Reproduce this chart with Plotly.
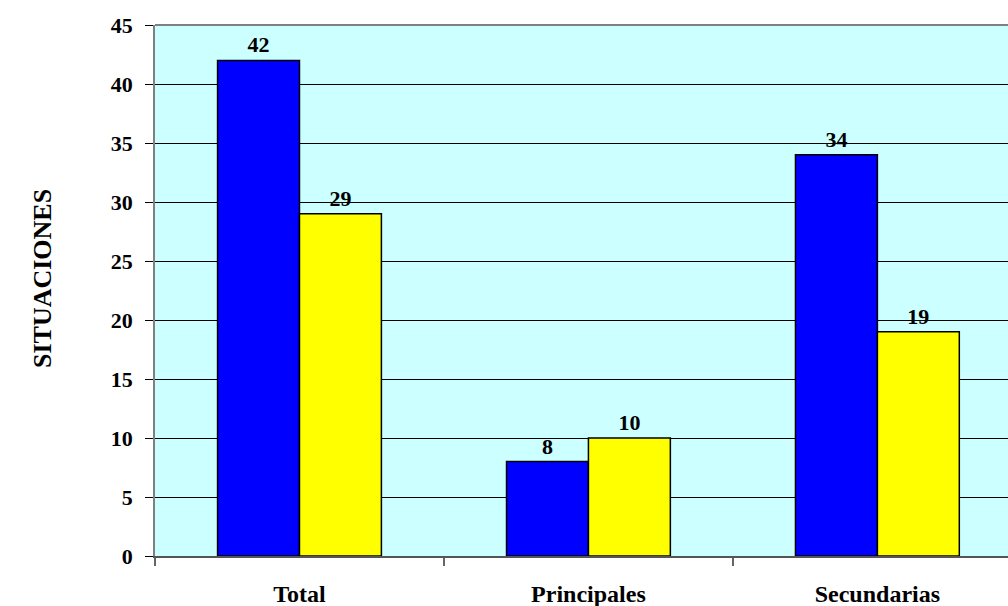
import plotly.graph_objects as go

categories = ["Total", "Principales", "Secundarias"]
serie_azul = [42, 8, 34]
serie_amarilla = [29, 10, 19]
y_ticks = [0, 5, 10, 15, 20, 25, 30, 35, 40, 45]
y_title = "SITUACIONES"

FONT = "Liberation Serif"
FS = 22
xpos = list(range(len(categories)))

fig = go.Figure()
fig.add_trace(go.Bar(
    x=xpos, y=serie_azul, marker=dict(color="#0000FF", line=dict(color="black", width=1.5)),
    text=[f"<b>{v}</b>" for v in serie_azul], textposition="outside",
    textfont=dict(family=FONT, size=FS, color="black"), cliponaxis=False, name="A"))
fig.add_trace(go.Bar(
    x=xpos, y=serie_amarilla, marker=dict(color="#FFFF00", line=dict(color="black", width=1.5)),
    text=[f"<b>{v}</b>" for v in serie_amarilla], textposition="outside",
    textfont=dict(family=FONT, size=FS, color="black"), cliponaxis=False, name="B"))

fig.update_layout(
    width=1008, height=606,
    margin=dict(l=155, r=0, t=25, b=50),
    paper_bgcolor="white", plot_bgcolor="#CCFFFF",
    barmode="group", bargap=0.433, bargroupgap=0,
    showlegend=False, uniformtext=dict(minsize=FS, mode="show"),
    font=dict(family=FONT, size=FS, color="black"),
    xaxis=dict(
        range=[-0.5, 2.452], tickvals=xpos, ticktext=[f"<b>{c}</b>" for c in categories],
        ticks="", showgrid=False, zeroline=False,
        showline=True, linecolor="#555555", linewidth=1.5,
        tickfont=dict(family=FONT, size=24, color="black"),
        ticklabelstandoff=15,
        minor=dict(tickvals=[-0.5, 0.5, 1.5], ticks="outside", ticklen=8, tickcolor="#666666", tickwidth=1.5, showgrid=False),
    ),
    yaxis=dict(
        range=[0, 45], tickvals=y_ticks, ticktext=[f"<b>{t}</b>" for t in y_ticks],
        ticks="outside", ticklen=8, tickcolor="black", tickwidth=1,
        showgrid=True, gridcolor="black", gridwidth=1, zeroline=False,
        showline=True, linecolor="#808080", linewidth=1.5, mirror=False,
        tickfont=dict(family=FONT, size=FS, color="black"),
        ticklabelstandoff=8,
    ),
)
fig.add_annotation(text=f"<b>{y_title}</b>", xref="paper", yref="paper",
                   x=-0.1325, y=0.5235, xanchor="center", yanchor="middle",
                   textangle=-90, showarrow=False,
                   font=dict(family=FONT, size=26, color="black"))
fig.add_shape(type="line", xref="paper", yref="paper", x0=0, x1=1, y0=1, y1=1,
              line=dict(color="#808080", width=2))

fig.write_html("out.html")
